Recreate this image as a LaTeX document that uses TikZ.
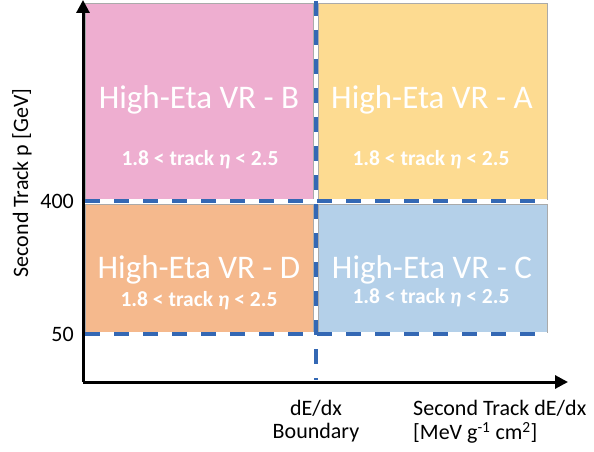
\documentclass[tikz,border=0pt]{standalone}
\usepackage{fontspec}
\setmainfont{Carlito}
\usetikzlibrary{arrows.meta}
\definecolor{cpink}{RGB}{238,174,208}
\definecolor{cyellow}{RGB}{253,219,145}
\definecolor{corange}{RGB}{245,185,141}
\definecolor{cblue}{RGB}{180,208,233}
\definecolor{cdash}{RGB}{52,104,180}
\definecolor{cedge}{RGB}{170,170,170}
\begin{document}
\begin{tikzpicture}[x=1pt,y=-1pt,
  region/.style={draw=cedge,line width=0.8pt},
  bigtxt/.style={text=white,font=\fontsize{33}{36}\selectfont,inner sep=0pt},
  smalltxt/.style={text=white,font=\bfseries\fontsize{21.5}{24}\selectfont,inner sep=0pt},
  lbl/.style={text=black,font=\fontsize{22}{25}\selectfont,inner sep=0pt},
  bgline/.style={white,line width=4pt},
  dashline/.style={cdash,line width=4pt,dash pattern=on 15pt off 14pt},
  axis/.style={black,line width=3pt,-{Triangle[length=13pt,width=13pt]}}]
\useasboundingbox (0,0) rectangle (594,452);
% regions
\filldraw[region,fill=cpink] (85,3) rectangle (313,199);
\filldraw[region,fill=cyellow] (318,3) rectangle (547,199);
\filldraw[region,fill=corange] (85,204) rectangle (313,332);
\filldraw[region,fill=cblue] (318,204) rectangle (547,332);
% texts
\node[bigtxt] (tB) at (199,100) {High-Eta VR - B};
\node[smalltxt] (sB) at (200,160) {1.8 < track \textit{η} < 2.5};
\node[bigtxt] (tA) at (432,100) {High-Eta VR - A};
\node[smalltxt] (sA) at (431,160) {1.8 < track \textit{η} < 2.5};
\node[bigtxt] (tD) at (199,270) {High-Eta VR - D};
\node[smalltxt] (sD) at (199,301) {1.8 < track \textit{η} < 2.5};
\node[bigtxt] (tC) at (432,270) {High-Eta VR - C};
\node[smalltxt] (sC) at (431,298) {1.8 < track \textit{η} < 2.5};
% dashed boundaries
\coordinate (h1a) at (85,201); \coordinate (h1b) at (547,201);
\coordinate (h2a) at (85,334); \coordinate (h2b) at (547,334);
\coordinate (va) at (316,1); \coordinate (vb) at (316,380);
\draw[bgline] (h1a) -- (h1b);
\draw[bgline] (h2a) -- (h2b);
\draw[bgline] (va) -- (vb);
\draw[dashline] (h1a) -- (h1b);
\draw[dashline] (h2a) -- (h2b);
\draw[dashline] (va) -- (vb);
% axes
\coordinate (origin) at (83,382);
\coordinate (ytip) at (83,0);
\coordinate (xtip) at (568,382);
\draw[axis] (origin) -- (ytip);
\draw[axis] (origin) -- (xtip);
% labels
\node[lbl,anchor=east] (l400) at (74,201) {400};
\node[lbl,anchor=east] (l50) at (74,334) {50};
\node[lbl,rotate=90] (ylab) at (22,183) {Second Track p [GeV]};
\node[lbl] (bd1) at (316,408) {dE/dx};
\node[lbl] (bd2) at (316,433) {Boundary};
\node[lbl,anchor=west] (xl1) at (413,408) {Second Track dE/dx};
\node[lbl,anchor=west] (xl2) at (413,433) {[MeV g\textsuperscript{-1} cm\textsuperscript{2}]};
\end{tikzpicture}
\end{document}
